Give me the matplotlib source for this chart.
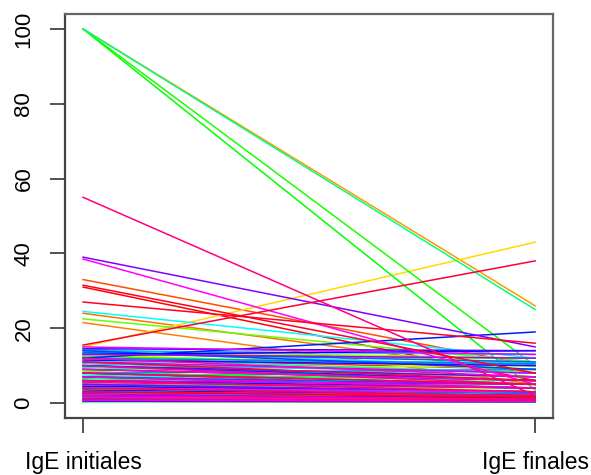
import colorsys
import matplotlib
matplotlib.use("Agg")
import matplotlib.pyplot as plt

# IgE avant / après traitement, un patient par ligne
ige_initiales = [
    31, 5, 2, 12, 8, 0.5, 33, 3, 6, 24,
    21.5, 1, 100, 9, 4, 14, 2.5, 15, 7, 10,
    1.5, 13, 3.5, 0.8, 11, 5.5, 9, 2, 14, 6,
    8.5, 1, 22.5, 4, 10, 3, 12.5, 0.5, 100, 7,
    100, 2, 11, 5, 13, 1.5, 8, 3, 0.3, 6.5,
    100, 12, 2, 9.5, 4.5, 14.5, 1, 7.5, 11, 3,
    24.5, 13.5, 6, 0.7, 10.5, 2.5, 14, 5, 8, 1.2,
    12, 4, 13.5, 7, 2, 14, 10, 3.5, 12, 6,
    13, 1, 9, 4.5, 11.5, 2, 14.5, 7, 0.5, 10,
    39, 5, 8, 13, 2.5, 6, 11, 3, 15, 1.5,
    38.5, 4, 9, 0.8, 7, 12, 3, 5.5, 10, 2,
    55, 6, 1, 8, 4, 11, 15.5, 27, 31.5, 3,
]
ige_finales = [
    6, 3, 1, 9, 4, 0.3, 10, 2, 5, 8,
    5, 1, 26, 7, 2, 11, 1.5, 43, 3, 6,
    0.8, 9, 2, 0.5, 8, 4, 10, 1, 12, 3,
    5, 0.6, 11, 3, 7, 1, 10, 0.2, 10, 9,
    3.5, 2, 5, 4, 12, 1, 6, 3, 0.5, 5,
    25, 8, 1.5, 7, 3, 9, 0.5, 4, 11, 2,
    12, 10, 4, 0.4, 8, 2, 13, 3, 9, 1,
    10.5, 2.5, 11, 5, 1, 9, 6, 2, 19, 4,
    14, 0.5, 6, 3, 10, 1.5, 14, 4, 0.3, 7,
    15, 3, 5, 12, 1, 5, 8, 2, 13, 1,
    5, 3, 6, 0.5, 4, 7, 2, 4, 5, 1,
    2, 3, 0.8, 5, 2, 6, 38, 16, 8, 1.5,
]
temps = [1, 2]
noms_temps = ["IgE initiales", "IgE finales"]
ticks_y = [0, 20, 40, 60, 80, 100]

plt.rcParams["font.family"] = ["Liberation Sans", "DejaVu Sans"]

fig = plt.figure(figsize=(5.91, 4.75), dpi=100)
ax = fig.add_axes([0.110, 0.120, 0.826, 0.8505])

# une couleur arc-en-ciel par patient (comme rainbow() en R)
n = len(ige_initiales)
for i in range(n):
    couleur = colorsys.hsv_to_rgb(i / n, 1, 1)
    ax.plot(temps, [ige_initiales[i], ige_finales[i]], color=couleur, lw=1.1)

ax.set_xlim(0.96, 2.04)
ax.set_ylim(-4, 104)

ax.set_xticks(temps)
ax.set_xticklabels(noms_temps, fontsize=16.5)
ax.set_yticks(ticks_y)
ax.set_yticklabels([str(v) for v in ticks_y], fontsize=16, rotation=90, va="center")

ax.tick_params(axis="both", direction="out", length=11, width=1.2, color="#333333")
ax.tick_params(axis="x", pad=12.5)
ax.tick_params(axis="y", pad=11)

for s in ax.spines.values():
    s.set_color("#666666")
    s.set_linewidth(1.6)
ax.spines["left"].set_color("#444444")
ax.spines["bottom"].set_color("#444444")

fig.savefig("out.png", dpi=100)
